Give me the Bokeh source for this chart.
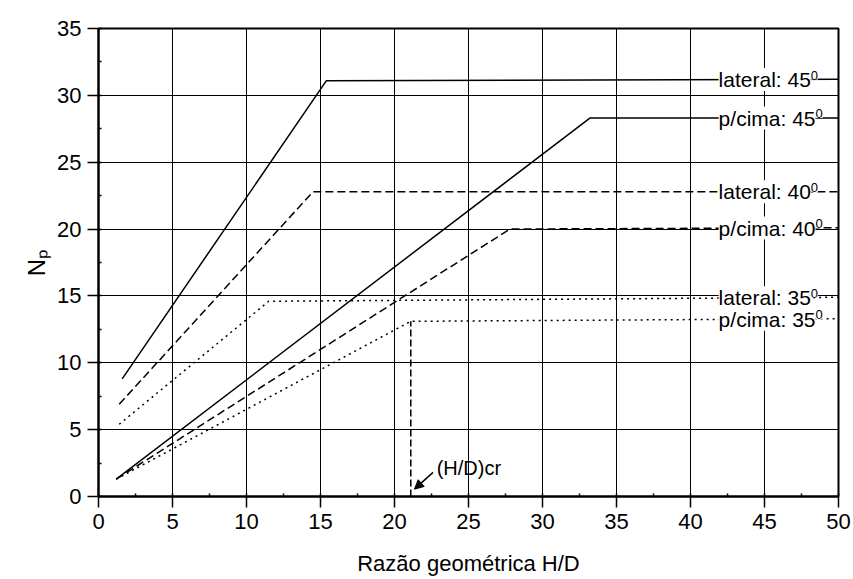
import numpy as np
from bokeh.plotting import figure
from bokeh.models import Label, Arrow, NormalHead, Range1d, SingleIntervalTicker, Title
from bokeh.embed import file_html
from bokeh.resources import INLINE

# ---- data ----
x_ticks = [0, 5, 10, 15, 20, 25, 30, 35, 40, 45, 50]
y_ticks = [0, 5, 10, 15, 20, 25, 30, 35]

lateral45_x = [1.6, 15.4, 50.0]
lateral45_y = [8.8, 31.1, 31.2]
pcima45_x = [1.2, 33.2, 50.0]
pcima45_y = [1.3, 28.3, 28.3]
lateral40_x = [1.4, 14.5, 50.0]
lateral40_y = [6.9, 22.8, 22.8]
pcima40_x = [1.2, 27.8, 50.0]
pcima40_y = [1.3, 20.0, 20.1]
lateral35_x = [1.4, 11.5, 50.0]
lateral35_y = [5.4, 14.6, 14.9]
pcima35_x = [1.2, 21.1, 50.0]
pcima35_y = [1.3, 13.1, 13.3]

series_labels = ["lateral: 45", "p/cima: 45", "lateral: 40", "p/cima: 40", "lateral: 35", "p/cima: 35"]
series_sup = ["0", "0", "0", "0", "0", "0"]

critical_x = [21.1, 21.1]
critical_y = [0.0, 13.1]
critical_text = "(H/D)cr"
arrow_start = (22.6, 1.8)
arrow_end = (21.35, 0.55)

x_title = "Razão geométrica H/D"
y_title = "N\u209a"

FONT = "Liberation Sans"

p = figure(width=853, height=579, output_backend="svg", toolbar_location=None,
           x_range=Range1d(0, 50), y_range=Range1d(0, 35),
           min_border_left=98, min_border_right=15, min_border_top=28, min_border_bottom=83)
p.background_fill_color = "white"
p.border_fill_color = "white"
p.outline_line_color = "black"
p.outline_line_width = 2

for ax in (p.xaxis[0], p.yaxis[0]):
    ax.ticker = SingleIntervalTicker(interval=5, num_minor_ticks=2)
    ax.axis_line_width = 2
    ax.axis_line_color = "black"
    ax.major_tick_line_color = "black"
    ax.major_tick_line_width = 1.5
    ax.major_tick_out = 11
    ax.major_tick_in = 0
    ax.minor_tick_line_color = "black"
    ax.minor_tick_line_width = 1.5
    ax.minor_tick_in = 3
    ax.minor_tick_out = 0
    ax.major_label_text_font = FONT
    ax.major_label_text_font_size = "22px"
    ax.major_label_text_color = "black"
    ax.major_label_standoff = 6
    ax.axis_label_text_font = FONT
    ax.axis_label_text_font_style = "normal"
    ax.axis_label_text_color = "black"

p.xaxis.axis_label = x_title
p.xaxis.axis_label_text_font_size = "22px"
p.xaxis.axis_label_standoff = 19

p.add_layout(Title(text=y_title, align="center", text_font=FONT, text_font_size="24px",
                   text_font_style="normal", text_color="black", standoff=10, offset=0), "left")

p.xgrid.ticker = SingleIntervalTicker(interval=5)
p.ygrid.ticker = SingleIntervalTicker(interval=5)
p.grid.grid_line_color = "black"
p.grid.grid_line_width = 1
p.grid.grid_line_alpha = 1

series = [
    (lateral45_x, lateral45_y, "solid"),
    (pcima45_x, pcima45_y, "solid"),
    (lateral40_x, lateral40_y, "8 4"),
    (pcima40_x, pcima40_y, "8 4"),
    (lateral35_x, lateral35_y, "2 4"),
    (pcima35_x, pcima35_y, "2 4"),
]
for xs, ys, dash in series:
    p.line(xs, ys, line_color="black", line_width=1.5, line_dash=dash)

p.line(critical_x, critical_y, line_color="black", line_width=1.5, line_dash="7 3")

# Arial advance widths (em) for label-width estimation
ARIAL_W = {"l": .222, "a": .556, "t": .278, "e": .556, "r": .333, ":": .278, " ": .278,
           "4": .556, "5": .556, "3": .556, "0": .556, "p": .556, "/": .278, "c": .5,
           "i": .222, "m": .833}

label_x = 41.9
label_size = 21
for (xs, ys, dash), txt, sup in zip(series, series_labels, series_sup):
    ly = float(np.interp(label_x + 3, xs, ys))
    p.add_layout(Label(x=label_x, y=ly, text=txt, text_font=FONT, text_font_size=f"{label_size}px",
                       text_color="black", text_baseline="middle", text_align="left",
                       background_fill_color="white"))
    w = sum(ARIAL_W.get(c, .556) for c in txt) * label_size
    p.add_layout(Label(x=label_x, y=ly, x_offset=w, y_offset=0, text=sup, text_font=FONT,
                       text_font_size="13px", text_color="black", text_baseline="bottom",
                       text_align="left", background_fill_color="white"))

p.add_layout(Arrow(end=NormalHead(size=9, fill_color="black", line_color="black", line_width=1),
                   x_start=arrow_start[0], y_start=arrow_start[1],
                   x_end=arrow_end[0], y_end=arrow_end[1], line_width=1.5, line_color="black"))
p.add_layout(Label(x=22.85, y=2.1, text=critical_text, text_font=FONT, text_font_size="20px",
                   text_color="black", text_baseline="middle", text_align="left"))

open("out.html", "w").write(file_html(p, INLINE))
